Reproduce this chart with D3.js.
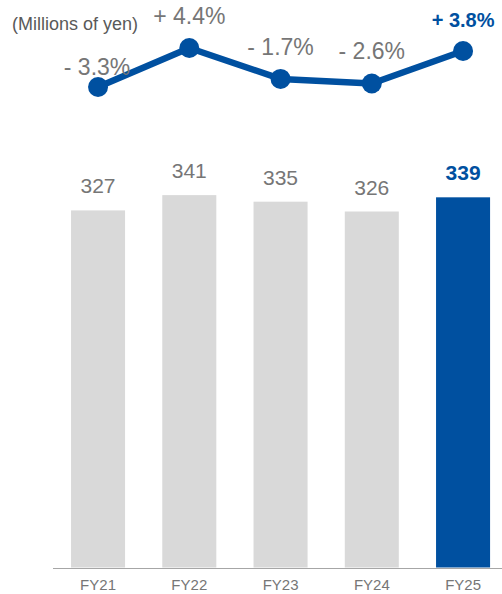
<!DOCTYPE html>
<html>
<head>
<meta charset="utf-8">
<script src="https://cdn.jsdelivr.net/npm/d3@7"></script>
<style>
  html, body { margin: 0; padding: 0; background: #fff; }
  svg { display: block; font-family: "Liberation Sans", Arial, sans-serif; }
</style>
</head>
<body>
<svg id="chart" width="502" height="594"></svg>
<script>
// Fiscal years, net sales (millions of yen) and year-on-year change (%)
const categories = ["FY21", "FY22", "FY23", "FY24", "FY25"];
const sales = [327, 341, 335, 326, 339];
const growth = [-3.3, 4.4, -1.7, -2.6, 3.8];
const growthLabels = ["- 3.3%", "+ 4.4%", "- 1.7%", "- 2.6%", "+ 3.8%"];
const unitLabel = "(Millions of yen)";

const GRAY_BAR = "#d9d9d9";
const BLUE = "#0050a0";
const TEXT_GRAY = "#767676";

const svg = d3.select("#chart");
const last = categories.length - 1;

const x = d3.scaleBand()
  .domain(categories)
  .range([33.8, 527.3])
  .paddingInner(0.408)
  .paddingOuter(0.408);

const yBar = d3.scaleLinear().domain([0, 350]).range([567.5, 185.3]);
const yLine = d3.scaleLinear().domain([-4, 5]).range([90.6, 44.95]);

const cx = d => x(d) + x.bandwidth() / 2;

// Bars
svg.append("g").selectAll("rect")
  .data(categories)
  .join("rect")
  .attr("x", d => x(d))
  .attr("width", x.bandwidth())
  .attr("y", (d, i) => yBar(sales[i]))
  .attr("height", (d, i) => yBar(0) - yBar(sales[i]))
  .attr("fill", (d, i) => i === last ? BLUE : GRAY_BAR);

// Bar value labels
svg.append("g").selectAll("text")
  .data(categories)
  .join("text")
  .attr("x", d => cx(d))
  .attr("y", (d, i) => yBar(sales[i]) - 17)
  .attr("text-anchor", "middle")
  .attr("font-size", 21)
  .attr("font-weight", (d, i) => i === last ? "bold" : "normal")
  .attr("fill", (d, i) => i === last ? BLUE : TEXT_GRAY)
  .text((d, i) => sales[i]);

// Baseline
svg.append("line")
  .attr("x1", 53).attr("x2", 502)
  .attr("y1", yBar(0) + 1).attr("y2", yBar(0) + 1)
  .attr("stroke", "#a6a6a6")
  .attr("stroke-width", 1.2);

// Category axis labels
const xAxis = d3.axisBottom(x).tickSize(0).tickPadding(12);
const gx = svg.append("g")
  .attr("transform", `translate(0,${yBar(0)})`)
  .call(xAxis);
gx.select(".domain").remove();
gx.selectAll("text")
  .attr("font-family", "Liberation Sans, Arial, sans-serif")
  .attr("font-size", 15)
  .attr("fill", TEXT_GRAY);

// Growth line
const line = d3.line()
  .x((d, i) => cx(categories[i]))
  .y(d => yLine(d));

svg.append("path")
  .datum(growth)
  .attr("d", line)
  .attr("fill", "none")
  .attr("stroke", BLUE)
  .attr("stroke-width", 6.5)
  .attr("stroke-linejoin", "round");

// Growth labels (drawn before markers so markers sit on top)
svg.append("g").selectAll("text")
  .data(growth)
  .join("text")
  .attr("x", (d, i) => cx(categories[i]) + (i === 0 ? -1 : 0))
  .attr("y", (d, i) => yLine(d) - (i === 0 ? 12 : 24))
  .attr("text-anchor", "middle")
  .attr("font-size", (d, i) => i === last ? 20 : 23)
  .attr("font-weight", (d, i) => i === last ? "bold" : "normal")
  .attr("fill", (d, i) => i === last ? BLUE : TEXT_GRAY)
  .text((d, i) => growthLabels[i]);

svg.append("g").selectAll("circle")
  .data(growth)
  .join("circle")
  .attr("cx", (d, i) => cx(categories[i]))
  .attr("cy", d => yLine(d))
  .attr("r", 10)
  .attr("fill", BLUE);

// Unit note
svg.append("text")
  .attr("x", 12)
  .attr("y", 30)
  .attr("font-size", 18)
  .attr("fill", "#595959")
  .text(unitLabel);
</script>
</body>
</html>
